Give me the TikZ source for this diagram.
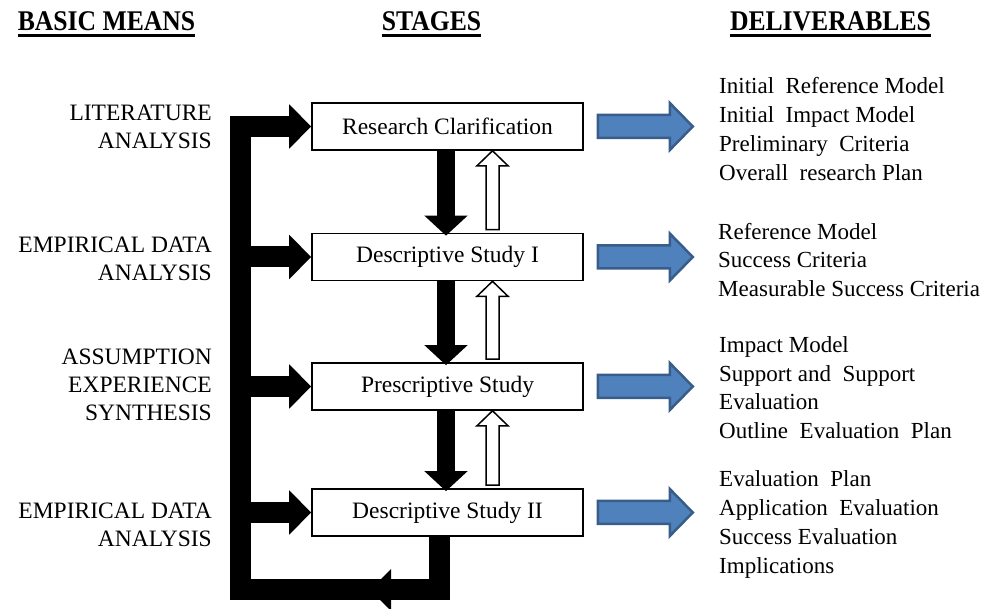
\documentclass[tikz,border=0pt]{standalone}
\usepackage{fontspec}
\setmainfont{Liberation Serif}
\usetikzlibrary{arrows.meta,calc}
\definecolor{arrowblue}{HTML}{4F81BD}
\definecolor{arrowedge}{HTML}{385D8A}

% hollow upward feedback arrow between a lower and an upper stage
\newcommand{\hollowup}[2]{%
  \path (#1.north -| ux) coordinate (hb) (#2.south -| ux) coordinate (ht);
  \draw[hollow] ($(hb)+(-6.5,-3)$) -- ($(ht)+(-6.5,15)$) -- ($(ht)+(-15.5,15)$)
    -- (ht) -- ($(ht)+(15.5,15)$) -- ($(ht)+(6.5,15)$) -- ($(hb)+(6.5,-3)$) -- cycle;}

% block arrow from a stage towards its deliverables
\newcommand{\deliverarrow}[1]{%
  \draw[bluearrow] ($(#1.east)+(14,-11.5)$) -- ++(72,0) -- ++(0,-12) -- ++(23,23.5)
    -- ++(-23,23.5) -- ++(0,-12) -- ++(-72,0) -- cycle;}

\begin{document}
\begin{tikzpicture}[x=1pt,y=-1pt,
  stagebox/.style={draw,fill=white,line width=1.6pt,minimum width=271pt,minimum height=47pt,
    inner sep=0pt,font=\fontsize{23.5}{28}\selectfont},
  meanslabel/.style={anchor=east,align=right,inner sep=0pt,font=\fontsize{23.5}{28}\selectfont},
  delivlabel/.style={anchor=west,align=left,inner sep=0pt,font=\fontsize{23}{28.7}\selectfont},
  heading/.style={anchor=base,inner sep=0pt,font=\bfseries\fontsize{28.5}{30}\selectfont},
  headrule/.style={line width=3pt},
  feed/.style={line width=21pt,-{Triangle[length=22pt,width=43pt]}},
  loopbar/.style={line width=21pt,line join=miter,-{Triangle[length=22pt,width=43pt]}},
  downflow/.style={line width=18pt,-{Triangle[length=20pt,width=42pt]}},
  hollow/.style={draw=black,fill=white,line width=1.5pt,line join=miter},
  bluearrow/.style={draw=arrowedge,fill=arrowblue,line width=2.5pt,line join=miter}
]
\useasboundingbox (0,0) rectangle (989,609);

% column headings
\node[heading] (hmeans) at (106.5,31) {\scalebox{0.9}[1]{BASIC MEANS}};
\node[heading] (hstages) at (431.5,31) {\scalebox{0.9}[1]{STAGES}};
\node[heading] (hdeliv) at (830.5,31) {\scalebox{0.9}[1]{DELIVERABLES}};
\foreach \h in {hmeans,hstages,hdeliv}
  \draw[headrule] ($(\h.base west)+(0,4.5)$) -- ($(\h.base east)+(0,4.5)$);

% stages
\node[stagebox] (rc)  at (447.5,126.5) {Research Clarification};
\node[stagebox] (ds1) at (447.5,257)   {Descriptive Study I};
\node[stagebox] (ps)  at (447.5,386.5) {Prescriptive Study};
\node[stagebox] (ds2) at (447.5,512.5) {Descriptive Study II};

% basic means
\node[meanslabel] (m1) at (212,127) {LITERATURE\\ANALYSIS};
\node[meanslabel] (m2) at (212,259) {EMPIRICAL DATA\\ANALYSIS};
\node[meanslabel] (m3) at (212,385) {ASSUMPTION\\EXPERIENCE\\SYNTHESIS};
\node[meanslabel] (m4) at (212,525) {EMPIRICAL DATA\\ANALYSIS};

% deliverables
\node[delivlabel] (d1) at (719,129) {Initial\ \ Reference Model\\Initial\ \ Impact Model\\Preliminary\ \ Criteria\\Overall\ \ research Plan};
\node[delivlabel] (d2) at (718,260) {Reference Model\\Success Criteria\\Measurable Success Criteria};
\node[delivlabel] (d3) at (719,387.5) {Impact Model\\Support and\ \ Support\\Evaluation\\Outline\ \ Evaluation\ \ Plan};
\node[delivlabel] (d4) at (719,524.5) {Evaluation\ \ Plan\\Application\ \ Evaluation\\Success Evaluation\\Implications};

% guide coordinates for the bars
\coordinate (lx) at (240.5,0);
\coordinate (rx) at (439.5,0);
\coordinate (by) at (0,590);
\coordinate (dx) at (446,0);
\coordinate (ux) at (492.5,0);

% iteration loop from the last stage back to the first
\draw[loopbar] (ds2.south -| rx) -- (rx |- by) -- (lx |- by) -- (lx |- rc.west) -- (rc.west);
\coordinate (loophead) at (370,590);
\fill ($(loophead)+(21,-21)$) -- (loophead) -- ($(loophead)+(21,21)$) -- cycle;

% basic means feeding the later stages
\draw[feed] (lx |- ds1.west) -- (ds1.west);
\draw[feed] (lx |- ps.west) -- (ps.west);
\draw[feed] (lx |- ds2.west) -- (ds2.west);

% forward flow between stages
\draw[downflow] (rc.south -| dx) -- ($(ds1.north -| dx)+(0,3)$);
\draw[downflow] (ds1.south -| dx) -- ($(ps.north -| dx)+(0,3)$);
\draw[downflow] (ps.south -| dx) -- ($(ds2.north -| dx)+(0,3)$);

% feedback between stages
\hollowup{ds1}{rc}
\hollowup{ps}{ds1}
\hollowup{ds2}{ps}

% deliverable arrows
\deliverarrow{rc}
\deliverarrow{ds1}
\deliverarrow{ps}
\deliverarrow{ds2}
\end{tikzpicture}
\end{document}
